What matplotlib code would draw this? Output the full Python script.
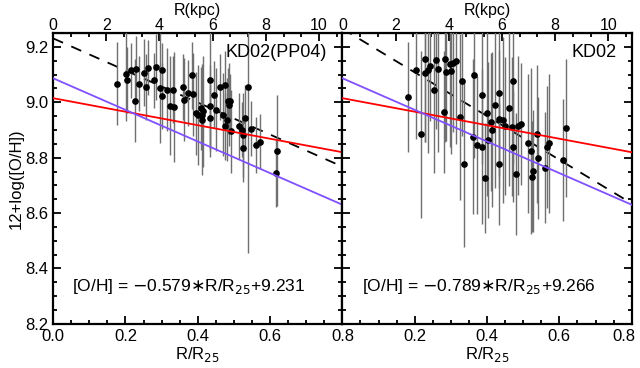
import numpy as np
import matplotlib
matplotlib.use('Agg')
import matplotlib.pyplot as plt
from matplotlib.ticker import MultipleLocator, FixedLocator
from matplotlib.transforms import ScaledTranslation

# left panel: KD02(PP04)
x_pp04 = [0.177, 0.201, 0.203, 0.216, 0.227, 0.228, 0.238, 0.252, 0.258, 0.263,
          0.279, 0.284, 0.296, 0.302, 0.302, 0.314, 0.323, 0.331, 0.333, 0.358,
          0.363, 0.372, 0.384, 0.386, 0.394, 0.400, 0.409, 0.411, 0.412, 0.415,
          0.435, 0.435, 0.435, 0.445, 0.451, 0.462, 0.470, 0.474, 0.474, 0.482,
          0.484, 0.486, 0.489, 0.493, 0.513, 0.521, 0.525, 0.526, 0.530, 0.538,
          0.547, 0.560, 0.572, 0.616, 0.619]
y_pp04 = [9.067, 9.101, 9.080, 9.116, 9.006, 9.119, 9.068, 9.107, 9.056, 9.125,
          9.079, 9.127, 9.052, 9.115, 9.022, 9.046, 8.988, 9.046, 8.983, 9.055,
          9.010, 9.034, 9.097, 9.030, 8.961, 8.955, 8.979, 8.937, 8.955, 8.967,
          9.082, 8.985, 8.943, 9.028, 8.973, 9.055, 8.955, 9.064, 8.913, 8.937,
          9.004, 8.992, 9.004, 8.895, 8.915, 8.901, 8.882, 8.834, 8.943, 9.056,
          8.905, 8.846, 8.858, 8.743, 8.825]
e_pp04 = [0.15, 0.17, 0.12, 0.10, 0.15, 0.12, 0.10, 0.12, 0.12, 0.10,
          0.10, 0.12, 0.20, 0.10, 0.12, 0.15, 0.18, 0.12, 0.20, 0.12,
          0.15, 0.12, 0.12, 0.15, 0.15, 0.18, 0.15, 0.20, 0.12, 0.20,
          0.28, 0.15, 0.12, 0.12, 0.15, 0.12, 0.15, 0.12, 0.12, 0.15,
          0.12, 0.15, 0.10, 0.15, 0.12, 0.10, 0.15, 0.12, 0.12, 0.60,
          0.10, 0.10, 0.10, 0.12, 0.20]

# right panel: KD02
x_kd02 = [0.182, 0.203, 0.217, 0.228, 0.228, 0.238, 0.241, 0.253, 0.259, 0.263,
          0.281, 0.285, 0.287, 0.297, 0.301, 0.305, 0.315, 0.324, 0.331, 0.335,
          0.361, 0.364, 0.373, 0.385, 0.387, 0.393, 0.400, 0.402, 0.410, 0.413,
          0.423, 0.434, 0.434, 0.434, 0.444, 0.450, 0.460, 0.469, 0.473, 0.473,
          0.479, 0.487, 0.494, 0.514, 0.522, 0.523, 0.528, 0.537, 0.542, 0.559,
          0.566, 0.572, 0.611, 0.617]
y_kd02 = [9.019, 9.116, 8.884, 9.155, 9.107, 9.116, 9.133, 9.046, 9.153, 9.122,
          8.965, 9.155, 9.110, 9.139, 9.112, 9.143, 9.148, 8.947, 9.078, 8.779,
          8.876, 9.099, 8.846, 9.028, 8.840, 8.727, 8.961, 8.864, 8.928, 8.901,
          8.989, 9.033, 8.939, 8.776, 8.937, 8.915, 8.979, 8.912, 9.076, 8.840,
          8.742, 8.916, 8.922, 8.852, 8.824, 8.732, 8.753, 8.886, 8.798, 8.764,
          8.838, 8.852, 8.792, 8.907]
e_kd02 = [0.20, 0.25, 0.30, 0.30, 0.25, 0.30, 0.20, 0.30, 0.25, 0.30,
          0.22, 0.30, 0.25, 0.30, 0.30, 0.25, 0.30, 0.30, 0.20, 0.30,
          0.28, 0.30, 0.25, 0.25, 0.28, 0.20, 0.30, 0.28, 0.25, 0.28,
          0.30, 0.30, 0.25, 0.22, 0.30, 0.25, 0.28, 0.25, 0.30, 0.20,
          0.22, 0.25, 0.22, 0.25, 0.30, 0.20, 0.22, 0.25, 0.22, 0.20,
          0.22, 0.25, 0.22, 0.25]

# fits: (slope, intercept)
fit_pp04 = (-0.579, 9.231)
fit_kd02 = (-0.789, 9.266)
fit_red = (-0.244, 9.015)
fit_blue = (-0.571, 9.087)
R25_kpc = 13.6
kpc_ticks = [0, 2, 4, 6, 8, 10]

plt.rcParams['font.family'] = ['Liberation Sans', 'DejaVu Sans']
plt.rcParams['mathtext.fontset'] = 'dejavusans'

fig = plt.figure(figsize=(6.4, 3.68), dpi=100)
ax1 = fig.add_axes([0.083, 0.12, 0.452, 0.79])
ax2 = fig.add_axes([0.535, 0.12, 0.452, 0.79])

xx = np.array([0.0, 0.8])
panels = [(ax1, x_pp04, y_pp04, e_pp04, fit_pp04, 'KD02(PP04)'),
          (ax2, x_kd02, y_kd02, e_kd02, fit_kd02, 'KD02')]

for ax, x, y, e, fit, name in panels:
    ax.errorbar(x, y, yerr=e, fmt='o', color='black', ms=3.8, ecolor='#707070',
                elinewidth=1.0, capsize=0, zorder=3)
    ax.plot(xx, fit[0] * xx + fit[1], color='black', ls=(0, (6, 5)), lw=1.3, zorder=2)
    ax.plot(xx, fit_red[0] * xx + fit_red[1], color='red', lw=1.3, zorder=4)
    ax.plot(xx, fit_blue[0] * xx + fit_blue[1], color='#8050ff', lw=1.3, zorder=4)
    ax.set_xlim(0, 0.8)
    ax.set_ylim(8.2, 9.25)
    ax.xaxis.set_major_locator(MultipleLocator(0.2))
    ax.xaxis.set_minor_locator(MultipleLocator(0.05))
    ax.yaxis.set_major_locator(MultipleLocator(0.2))
    ax.yaxis.set_minor_locator(MultipleLocator(0.05))
    ax.tick_params(which='both', direction='in', right=True, width=1.3)
    ax.tick_params(which='major', length=6, labelsize=12)
    ax.tick_params(which='minor', length=3)
    for s in ax.spines.values():
        s.set_linewidth(1.6)
    ax.set_xlabel('R/R$_{25}$', fontsize=12, labelpad=1)
    ax.text(0.757, 9.18, name, ha='right', va='center', fontsize=13)
    ax.text(0.053, 8.335,
            '[O/H] = $-$%.3f$\\ast$R/R$_{25}$+%.3f' % (-fit[0], fit[1]),
            ha='left', va='center', fontsize=12.5)
    top = ax.secondary_xaxis('top', functions=(lambda v: v * R25_kpc, lambda v: v / R25_kpc))
    top.xaxis.set_major_locator(FixedLocator(kpc_ticks))
    top.xaxis.set_minor_locator(MultipleLocator(2 / 3))
    top.tick_params(which='both', direction='in', width=1.3)
    top.tick_params(which='major', length=6, labelsize=11.5, pad=0)
    top.tick_params(which='minor', length=3)
    top.set_xlabel('R(kpc)', fontsize=11.5, labelpad=2)

ax1.set_ylabel('12+log([O/H])', fontsize=12, labelpad=1)
ax2.tick_params(labelleft=False)
ax2.set_xticks([0.2, 0.4, 0.6, 0.8])
last = ax2.xaxis.get_major_ticks()[-1].label1
last.set_transform(last.get_transform() + ScaledTranslation(-0.08, 0, fig.dpi_scale_trans))

fig.savefig('out.png', dpi=100)
